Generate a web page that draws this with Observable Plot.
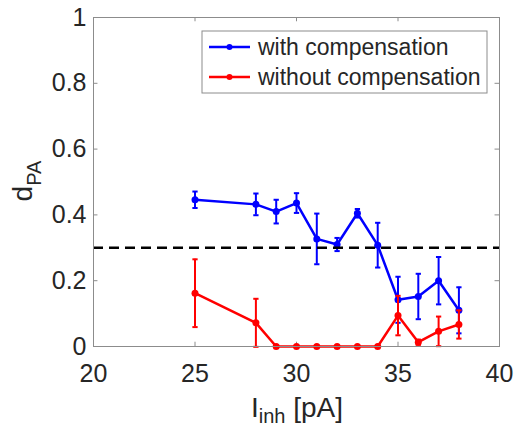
<!DOCTYPE html>
<html><head><meta charset="utf-8">
<script src="https://cdn.jsdelivr.net/npm/d3@7"></script>
<script src="https://cdn.jsdelivr.net/npm/@observablehq/plot@0.6"></script>
<style>
body{margin:0;background:#fff;}
#chart{position:relative;width:515px;height:429px;}
</style>
</head><body><div id="chart"></div>
<script>
const currents = [25, 28, 29, 30, 31, 32, 33, 34, 35, 36, 37, 38];
const withComp = [0.446, 0.432, 0.410, 0.436, 0.327, 0.310, 0.405, 0.308, 0.142, 0.152, 0.200, 0.110];
const withCompErr = [0.025, 0.033, 0.036, 0.030, 0.077, 0.020, 0.013, 0.068, 0.070, 0.069, 0.072, 0.070];
const withoutComp = [0.162, 0.072, 0, 0, 0, 0, 0, 0, 0.094, 0.013, 0.046, 0.067];
const withoutCompErr = [0.103, 0.073, 0, 0, 0, 0, 0, 0, 0.060, 0.008, 0.045, 0.043];
const threshold = 0.3;
const xTicks = [20, 25, 30, 35, 40];
const yTicks = [0, 0.2, 0.4, 0.6, 0.8, 1];
const seriesNames = ["with compensation", "without compensation"];
const seriesColors = ["#0000ff", "#ff0000"];

const rows = [];
[withComp, withoutComp].forEach((vals, s) => {
  const errs = s === 0 ? withCompErr : withoutCompErr;
  currents.forEach((x, i) => rows.push({series: seriesNames[s], x, y: vals[i], lo: vals[i] - errs[i], hi: vals[i] + errs[i]}));
});
const capHalf = 0.13;
const axisColor = "#8c8c8c";
const fontFamily = "'Liberation Sans', Arial, Helvetica, sans-serif";

const dataMarks = [];
seriesNames.forEach((name, s) => {
  const d = rows.filter(r => r.series === name);
  const c = seriesColors[s];
  dataMarks.push(
    Plot.ruleX(d, {x: "x", y1: "lo", y2: "hi", stroke: c, strokeWidth: 2}),
    Plot.link(d, {x1: r => r.x - capHalf, x2: r => r.x + capHalf, y1: "lo", y2: "lo", stroke: c, strokeWidth: 2}),
    Plot.link(d, {x1: r => r.x - capHalf, x2: r => r.x + capHalf, y1: "hi", y2: "hi", stroke: c, strokeWidth: 2}),
    Plot.line(d, {x: "x", y: "y", stroke: c, strokeWidth: 2.5}),
    Plot.dot(d, {x: "x", y: "y", r: 3.5, fill: c, stroke: "none"})
  );
});

const plot = Plot.plot({
  width: 515, height: 429,
  marginLeft: 93, marginRight: 16, marginTop: 17, marginBottom: 83,
  x: {domain: [20, 40]},
  y: {domain: [0, 1]},
  style: {fontFamily, fontSize: "25px", color: "#262626", background: "#fff"},
  marks: [
    Plot.axisX(xTicks, {tickSize: 0, tickPadding: 18, label: null, tickFormat: d => String(d)}),
    Plot.axisY(yTicks, {tickSize: 0, tickPadding: 7, label: null, tickFormat: d => String(d)}),
    Plot.ruleY(yTicks, {x1: 20, x2: 20.22, stroke: axisColor}),
    Plot.ruleY(yTicks, {x1: 39.78, x2: 40, stroke: axisColor}),
    Plot.ruleX(xTicks, {y1: 0, y2: 0.013, stroke: axisColor}),
    Plot.ruleX(xTicks, {y1: 0.987, y2: 1, stroke: axisColor}),
    ...dataMarks,
    Plot.ruleY([threshold], {stroke: "#000", strokeWidth: 2.5, strokeDasharray: "10,6"}),
    Plot.frame({stroke: axisColor, strokeWidth: 1})
  ]
});
document.getElementById("chart").appendChild(plot);

const svg = d3.select(plot);
// axis labels with subscripts
const xl = svg.append("text").attr("x", 297).attr("y", 417).attr("text-anchor", "middle")
  .attr("fill", "#262626").style("font-size", "28px").style("font-family", fontFamily);
xl.append("tspan").text("I");
xl.append("tspan").attr("dy", 6).style("font-size", "20px").text("inh");
xl.append("tspan").attr("dy", -6).text(" [pA]");

const yl = svg.append("text").attr("transform", "translate(32,181) rotate(-90)").attr("text-anchor", "middle")
  .attr("fill", "#262626").style("font-size", "28px").style("font-family", fontFamily);
yl.append("tspan").text("d");
yl.append("tspan").attr("dy", 9).style("font-size", "20px").text("PA");

// legend
const lg = svg.append("g");
lg.append("rect").attr("x", 202).attr("y", 31).attr("width", 285).attr("height", 62)
  .attr("fill", "#fff").attr("stroke", axisColor);
seriesNames.forEach((name, i) => {
  const cy = 47 + i * 30;
  lg.append("line").attr("x1", 209).attr("x2", 250).attr("y1", cy).attr("y2", cy)
    .attr("stroke", seriesColors[i]).attr("stroke-width", 2.5);
  lg.append("circle").attr("cx", 229.5).attr("cy", cy).attr("r", 3).attr("fill", seriesColors[i]);
  lg.append("text").attr("x", 258).attr("y", cy + 8).attr("text-anchor", "start").attr("fill", "#262626")
    .style("font-size", "23px").style("font-family", fontFamily).text(name);
});
</script>
</body></html>
